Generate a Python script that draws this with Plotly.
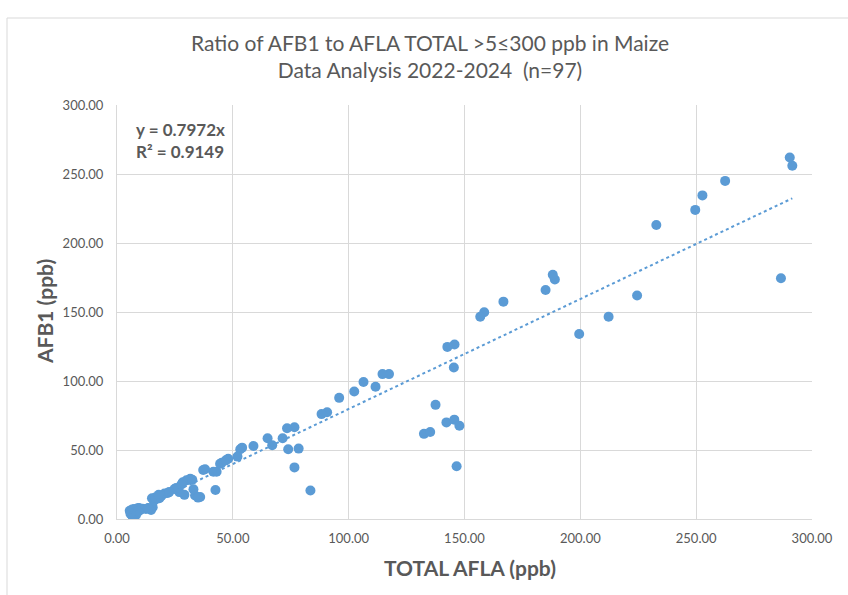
import plotly.graph_objects as go

total_afla = [
    291.5, 290.4, 286.6, 262.5, 252.7, 249.6, 232.8, 224.5, 212.2, 199.5,
    189.0, 188.1, 185.0, 166.8, 158.5, 156.8, 145.7, 142.6, 145.4, 137.5,
    142.2, 145.6, 147.8, 132.5, 135.2, 146.6, 117.4, 114.6, 111.6, 106.4,
    102.4, 95.9, 90.7, 88.3, 83.5, 78.4, 76.6, 76.6, 73.9, 73.4,
    71.5, 65.0, 67.0, 58.9, 54.0, 53.2, 52.0, 48.0, 45.2, 43.0,
    41.6, 38.0, 37.2, 42.5, 35.9, 33.7, 33.0, 31.6, 30.0, 28.4,
    29.1, 26.9, 24.8, 25.5, 21.9, 20.5, 19.2, 18.3, 17.0, 15.9,
    15.1, 15.4, 14.7, 12.5, 11.0, 9.5, 8.9, 8.2, 7.4, 7.0,
    6.8, 6.0, 5.5, 6.5, 7.8, 10.0, 13.5, 16.5, 18.0, 22.5,
    27.8, 32.5, 35.0, 44.5, 47.0, 9.2, 5.8,
]
afb1 = [
    256.0, 262.0, 174.5, 245.0, 234.5, 224.0, 213.0, 162.0, 146.5, 134.0,
    173.5, 177.0, 166.0, 157.5, 149.8, 146.5, 126.5, 124.7, 109.8, 82.7,
    70.0, 72.0, 67.6, 61.7, 63.1, 38.2, 105.0, 105.0, 95.8, 99.3,
    92.4, 87.8, 77.4, 76.0, 20.6, 51.0, 66.5, 37.4, 50.5, 65.8,
    58.5, 58.5, 53.4, 52.9, 51.7, 50.5, 45.2, 43.7, 40.8, 34.3,
    34.3, 36.0, 35.5, 21.0, 16.0, 17.0, 21.5, 29.2, 28.0, 26.6,
    17.5, 19.5, 21.7, 22.5, 18.8, 18.5, 16.9, 15.0, 14.5, 13.3,
    15.0, 8.5, 6.5, 7.2, 7.5, 8.0, 7.7, 2.9, 7.2, 5.5,
    1.5, 4.8, 6.0, 6.8, 4.5, 6.5, 8.0, 15.5, 17.5, 19.5,
    25.0, 28.5, 15.5, 40.0, 42.5, 5.5, 3.8,
]
slope = 0.7972
r2 = 0.9149

title_lines = ["Ratio of AFB1 to AFLA TOTAL >5≤300 ppb in Maize", "Data Analysis 2022-2024  (n=97)"]
x_title = "TOTAL AFLA (ppb)"
y_title = "AFB1 (ppb)"
x_ticks = [0, 50, 100, 150, 200, 250, 300]
y_ticks = [0, 50, 100, 150, 200, 250, 300]

# body margin is set to 0 by post_script, so figure pixels == window pixels
W, H = 848, 595
PL, PR, PT, PB = 117, 812, 105, 519
L, T = PL, PT
R, B = W - PR, H - PB
pw, ph = W - L - R, H - T - B

def px_to_paper_x(px):
    return (px - PL) / pw

def px_to_paper_y(py):
    return (PB - py) / ph

FONT = "Lato"
GRAY = "#595959"
BLUE = "#5B9BD5"
GRID = "#D9D9D9"

trend_x = [min(total_afla), max(total_afla)]
trend_y = [slope * v for v in trend_x]

fig = go.Figure()
fig.add_trace(go.Scatter(
    x=total_afla, y=afb1, mode="markers",
    marker=dict(color=BLUE, size=10, line=dict(width=0)),
    showlegend=False,
))
fig.add_trace(go.Scatter(
    x=trend_x, y=trend_y, mode="lines",
    line=dict(color=BLUE, width=2, dash="dot"),
    hoverinfo="skip", showlegend=False,
))

fig.update_layout(
    width=W, height=H,
    margin=dict(l=L, r=R, t=T, b=B),
    paper_bgcolor="white", plot_bgcolor="white",
    font=dict(family=FONT, color=GRAY, size=13),
    title=dict(
        text="<br>".join(title_lines),
        x=px_to_paper_x(430), xref="paper", xanchor="center",
        y=1 - 51 / H, yref="container", yanchor="middle",
        font=dict(family=FONT, size=21, color=GRAY),
    ),
    xaxis=dict(
        range=[0, 300], tickvals=x_ticks, tickformat=".2f",
        showgrid=True, gridcolor=GRID, gridwidth=1,
        showline=True, linecolor=GRID, linewidth=1,
        zeroline=False, ticks="", ticklabelstandoff=7,
        tickfont=dict(family=FONT, size=13, color=GRAY),
    ),
    yaxis=dict(
        range=[0, 300], tickvals=y_ticks, tickformat=".2f",
        showgrid=True, gridcolor=GRID, gridwidth=1,
        showline=True, linecolor=GRID, linewidth=1,
        zeroline=False, ticks="", ticklabelstandoff=10,
        tickfont=dict(family=FONT, size=13, color=GRAY),
    ),
    annotations=[
        dict(
            text="<b>y = %.4fx<br>R² = %.4f</b>" % (slope, r2),
            xref="paper", yref="paper",
            x=px_to_paper_x(134), y=px_to_paper_y(117),
            xanchor="left", yanchor="top", align="left",
            showarrow=False,
            font=dict(family=FONT, size=17, color=GRAY),
        ),
        dict(
            text="<b>" + x_title + "</b>",
            xref="paper", yref="paper",
            x=px_to_paper_x(470), y=px_to_paper_y(567),
            xanchor="center", yanchor="middle", showarrow=False,
            font=dict(family=FONT, size=21, color=GRAY),
        ),
        dict(
            text="<b>" + y_title + "</b>",
            xref="paper", yref="paper", textangle=-90,
            x=px_to_paper_x(44), y=px_to_paper_y(312),
            xanchor="center", yanchor="middle", showarrow=False,
            font=dict(family=FONT, size=21, color=GRAY),
        ),
    ],
    shapes=[
        dict(type="line", xref="paper", yref="paper",
             x0=px_to_paper_x(7), x1=px_to_paper_x(860),
             y0=px_to_paper_y(18), y1=px_to_paper_y(18),
             line=dict(color=GRID, width=1)),
        dict(type="line", xref="paper", yref="paper",
             x0=px_to_paper_x(7), x1=px_to_paper_x(7),
             y0=px_to_paper_y(18), y1=px_to_paper_y(610),
             line=dict(color=GRID, width=1)),
    ],
)

fig.write_html(
    "out.html",
    config={"displayModeBar": False},
    post_script="document.body.style.margin='0';",
)
